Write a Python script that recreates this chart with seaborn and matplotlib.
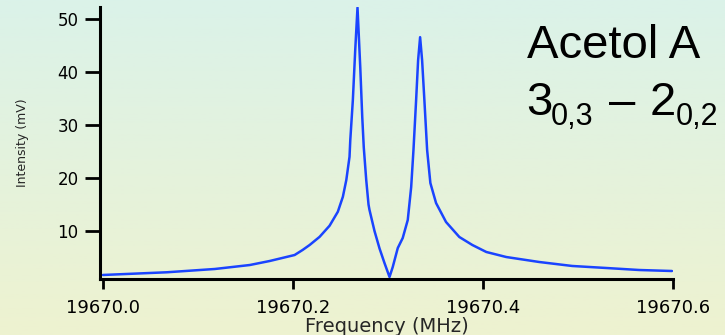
import numpy as np
import pandas as pd
import matplotlib
matplotlib.use("Agg")
import matplotlib.pyplot as plt
import seaborn as sns

# Data
freq_offset = [0.0000, 0.0672, 0.1177, 0.1545, 0.1755, 0.2017, 0.2101, 0.2175, 0.2280,
               0.2385, 0.2472, 0.2525, 0.2561, 0.2595, 0.2603, 0.2630, 0.2655, 0.2679,
               0.2708, 0.2729, 0.2745, 0.2771, 0.2795, 0.2805, 0.2858, 0.2911, 0.2963,
               0.3016, 0.3050, 0.3103, 0.3155, 0.3208, 0.3244, 0.3268, 0.3296, 0.3317,
               0.3338, 0.3359, 0.3383, 0.3412, 0.3446, 0.3506, 0.3611, 0.3751, 0.3888,
               0.4035, 0.4245, 0.4592, 0.4939, 0.5296, 0.5643, 0.5989]
intensity = [1.70, 2.21, 2.83, 3.58, 4.34, 5.47, 6.42, 7.36, 8.90,
             11.0, 13.64, 16.47, 19.62, 24.02, 27.17, 34.72, 44.15, 52.2,
             40.94, 31.51, 25.8, 19.6, 15.0, 14.0, 10.0, 6.7, 3.96,
             1.32, 3.21, 6.79, 8.68, 12.08, 18.30, 25.28, 34.72, 42.26,
             46.60, 42.26, 34.72, 25.28, 19.06, 15.28, 11.70, 8.87, 7.36,
             6.04, 5.09, 4.15, 3.40, 3.02, 2.64, 2.45]
base_freq = 19670.0
xticks = [19670.0, 19670.2, 19670.4, 19670.6]
xticklabels = ["19670.0", "19670.2", "19670.4", "19670.6"]
yticks = [10, 20, 30, 40, 50]

df = pd.DataFrame({"Frequency": [base_freq + f for f in freq_offset],
                   "Intensity": intensity})

sns.set_style("ticks")
plt.rcParams["font.family"] = ["DejaVu Sans"]

W, H = 725.0, 335.0
fig = plt.figure(figsize=(7.25, 3.35), dpi=100)

# gradient background
bg = fig.add_axes([0, 0, 1, 1], zorder=0)
top = np.array([219, 242, 233]) / 255.0
bot = np.array([238, 242, 208]) / 255.0
t = np.linspace(0, 1, 256)[:, None]
grad = (top[None, :] * (1 - t) + bot[None, :] * t)[:, None, :]
bg.imshow(grad, aspect="auto", extent=[0, 1, 0, 1])
bg.axis("off")

ax = fig.add_axes([100 / W, 56 / H, 573 / W, 272 / H], zorder=1)
ax.patch.set_alpha(0)
sns.lineplot(data=df, x="Frequency", y="Intensity", ax=ax, color="#1a44ff",
             linewidth=1.8)

ax.set_xlim(base_freq - 3 / 951.7, 19670.6)
ax.set_ylim(0.94, 52.3)
ax.set_xticks(xticks)
ax.set_xticklabels(xticklabels)
ax.set_yticks(yticks)

for s in ["top", "right"]:
    ax.spines[s].set_visible(False)
for s in ["left", "bottom"]:
    ax.spines[s].set_linewidth(2.2)
    ax.spines[s].set_color("black")

ax.tick_params(axis="y", length=10.5, width=2.0, pad=5, labelsize=12, colors="black")
ax.tick_params(axis="x", length=7.5, width=2.0, pad=7, labelsize=13, colors="black")

ax.set_xlabel("Frequency (MHz)", fontsize=14, labelpad=0)
ax.set_ylabel("Intensity (mV)", fontsize=9)
ax.yaxis.set_label_coords((29 - 100) / 573, 0.5)

big = dict(family="Liberation Sans", fontsize=34, ha="left", va="baseline", color="black")
small = dict(family="Liberation Sans", fontsize=22, ha="left", va="baseline", color="black")
fig.text(527 / W, 1 - 58 / H, "Acetol A", **big)
fig.text(526 / W, 1 - 115 / H, "3", **big)
fig.text(551 / W, 1 - 125 / H, "0,3", **small)
fig.text(609 / W, 1 - 115 / H, "\u2013", **big)
fig.text(650 / W, 1 - 115 / H, "2", **big)
fig.text(676 / W, 1 - 125 / H, "0,2", **small)

fig.savefig("out.png", dpi=100)
